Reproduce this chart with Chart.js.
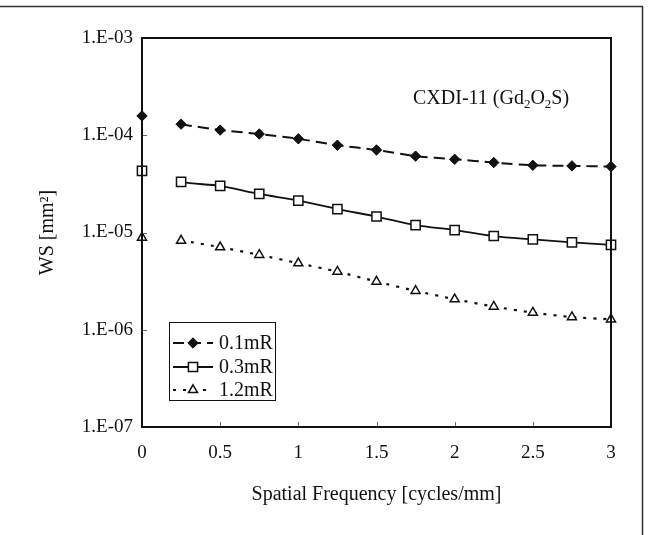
<!DOCTYPE html>
<html>
<head>
<meta charset="utf-8">
<script src="https://cdn.jsdelivr.net/npm/chart.js@4/dist/chart.umd.min.js"></script>
<style>
  html, body { margin: 0; padding: 0; background: #fff; }
  canvas { display: block; }
</style>
</head>
<body>
<canvas id="c" width="651" height="535"></canvas>
<script>
// ---- data ----
const xValues = [0, 0.25, 0.5, 0.75, 1, 1.25, 1.5, 1.75, 2, 2.25, 2.5, 2.75, 3];
const ws01mR = [1.58e-4, 1.30e-4, 1.13e-4, 1.03e-4, 9.2e-5, 7.9e-5, 7.06e-5, 6.1e-5, 5.66e-5, 5.24e-5, 4.91e-5, 4.84e-5, 4.77e-5];
const ws03mR = [4.3e-5, 3.31e-5, 3.01e-5, 2.49e-5, 2.13e-5, 1.74e-5, 1.46e-5, 1.19e-5, 1.06e-5, 9.2e-6, 8.5e-6, 7.9e-6, 7.46e-6];
const ws12mR = [8.87e-6, 8.26e-6, 7.06e-6, 5.89e-6, 4.83e-6, 3.96e-6, 3.13e-6, 2.51e-6, 2.06e-6, 1.73e-6, 1.5e-6, 1.35e-6, 1.28e-6];
const seriesNames = ['0.1mR', '0.3mR', '1.2mR'];
const xTickValues = [0, 0.5, 1, 1.5, 2, 2.5, 3];
const xTickLabels = ['0', '0.5', '1', '1.5', '2', '2.5', '3'];
const yTickValues = [1e-7, 1e-6, 1e-5, 1e-4, 1e-3];
const yTickLabels = ['1.E-07', '1.E-06', '1.E-05', '1.E-04', '1.E-03'];
const xTitle = 'Spatial Frequency [cycles/mm]';
const yTitle = 'WS [mm\u00B2]';

const SERIF = '"Liberation Serif", "DejaVu Serif", "Times New Roman", serif';
const INK = '#111';

function pts(vals) { return xValues.map((x, i) => ({ x: x, y: vals[i] })); }
const hideFirst = { borderColor: ctx => ctx.p0DataIndex === 0 ? 'rgba(0,0,0,0)' : undefined };

const datasets = [
  { label: seriesNames[0], data: pts(ws01mR), borderColor: INK, borderWidth: 2, borderDash: [11, 6],
    pointStyle: 'rectRot', pointRadius: 5.2, pointBackgroundColor: INK, pointBorderColor: INK, pointBorderWidth: 1,
    tension: 0.2, clip: false, segment: hideFirst },
  { label: seriesNames[1], data: pts(ws03mR), borderColor: INK, borderWidth: 1.8, borderDash: [],
    pointStyle: 'rect', pointRadius: 6.5, pointBackgroundColor: '#fff', pointBorderColor: INK, pointBorderWidth: 1.5,
    tension: 0.3, clip: false, segment: hideFirst },
  { label: seriesNames[2], data: pts(ws12mR), borderColor: INK, borderWidth: 2.2, borderDash: [3, 7],
    pointStyle: 'triangle', pointRadius: 5.2, pointBackgroundColor: '#fff', pointBorderColor: INK, pointBorderWidth: 1.5,
    tension: 0.2, clip: false, segment: hideFirst }
];

const framePlugin = {
  id: 'frame',
  beforeDraw(chart) {
    const ctx = chart.ctx;
    ctx.save();
    ctx.fillStyle = '#fff';
    ctx.fillRect(0, 0, chart.width, chart.height);
    ctx.strokeStyle = '#333';
    ctx.lineWidth = 1.5;
    ctx.beginPath();
    ctx.moveTo(0, 6.5); ctx.lineTo(642.5, 6.5); ctx.lineTo(642.5, 535);
    ctx.stroke();
    ctx.restore();
  },
  afterDraw(chart) {
    const ctx = chart.ctx;
    const a = chart.chartArea;
    const xs = chart.scales.x, ys = chart.scales.y;
    ctx.save();
    // inner tick marks
    ctx.strokeStyle = '#666';
    ctx.lineWidth = 1;
    ctx.beginPath();
    yTickValues.forEach(v => {
      const y = Math.round(ys.getPixelForValue(v)) + 0.5;
      ctx.moveTo(a.left, y); ctx.lineTo(a.left + 5, y);
    });
    xTickValues.forEach(v => {
      const x = Math.round(xs.getPixelForValue(v)) + 0.5;
      ctx.moveTo(x, a.bottom); ctx.lineTo(x, a.bottom - 5);
    });
    ctx.stroke();
    // plot border
    ctx.strokeStyle = INK;
    ctx.lineWidth = 2;
    ctx.strokeRect(a.left, a.top, a.right - a.left, a.bottom - a.top);

    // annotation CXDI-11 (Gd2O2S)
    ctx.fillStyle = INK;
    ctx.textBaseline = 'alphabetic';
    ctx.textAlign = 'left';
    const big = '20px ' + SERIF, small = '13px ' + SERIF;
    let x = 413; const by = 104;
    const parts = [['CXDI-11 (Gd', big, 0], ['2', small, 4], ['O', big, 0], ['2', small, 4], ['S)', big, 0]];
    parts.forEach(p => {
      ctx.font = p[1];
      ctx.fillText(p[0], x, by + p[2]);
      x += ctx.measureText(p[0]).width;
    });

    // legend
    const L = { x: 169, y: 322, w: 106, h: 78 };
    ctx.fillStyle = '#fff';
    ctx.fillRect(L.x, L.y, L.w, L.h);
    ctx.strokeStyle = INK;
    ctx.lineWidth = 1;
    ctx.strokeRect(L.x + 0.5, L.y + 0.5, L.w, L.h);
    const rows = [343, 367, 390];
    chart.data.datasets.forEach((ds, i) => {
      const yy = rows[i];
      ctx.save();
      ctx.strokeStyle = ds.borderColor;
      ctx.lineWidth = ds.borderWidth;
      ctx.setLineDash(ds.borderDash || []);
      ctx.beginPath();
      ctx.moveTo(173, yy); ctx.lineTo(213, yy);
      ctx.stroke();
      ctx.restore();
      ctx.save();
      ctx.fillStyle = ds.pointBackgroundColor;
      ctx.strokeStyle = ds.pointBorderColor;
      ctx.lineWidth = ds.pointBorderWidth;
      Chart.helpers.drawPoint(ctx, { pointStyle: ds.pointStyle, radius: ds.pointRadius, rotation: 0, borderWidth: ds.pointBorderWidth }, 193, yy);
      ctx.restore();
      ctx.fillStyle = INK;
      ctx.font = '20px ' + SERIF;
      ctx.textBaseline = 'middle';
      ctx.fillText(ds.label, 219, yy + 1);
    });
    ctx.restore();
  }
};

Chart.defaults.font.family = SERIF;
Chart.defaults.color = INK;

new Chart(document.getElementById('c'), {
  type: 'line',
  data: { datasets: datasets },
  options: {
    responsive: false,
    animation: false,
    devicePixelRatio: 1,
    layout: { padding: { left: 0, top: 38, right: 40, bottom: 0 } },
    plugins: { legend: { display: false }, tooltip: { enabled: false } },
    scales: {
      x: {
        type: 'linear', min: 0, max: 3,
        afterBuildTicks: s => { s.ticks = xTickValues.map(v => ({ value: v })); },
        afterFit: s => { s.height = 108; },
        ticks: { font: { size: 19 }, color: INK, padding: 15, maxRotation: 0,
          callback: v => xTickLabels[xTickValues.indexOf(v)] },
        grid: { display: false, drawTicks: false },
        border: { display: false },
        title: { display: true, text: xTitle, font: { size: 20 }, color: INK, padding: { top: 0, bottom: 28 } }
      },
      y: {
        type: 'logarithmic', min: 1e-7, max: 1e-3,
        afterBuildTicks: s => { s.ticks = yTickValues.map(v => ({ value: v })); },
        afterFit: s => { s.width = 142; },
        ticks: { font: { size: 19 }, color: INK, padding: 9,
          callback: v => { const i = yTickValues.findIndex(t => Math.abs(Math.log10(t) - Math.log10(v)) < 1e-6); return i >= 0 ? yTickLabels[i] : ''; } },
        grid: { display: false, drawTicks: false },
        border: { display: false },
        title: { display: true, text: yTitle, font: { size: 20 }, color: INK, padding: { top: 36, bottom: 0 } }
      }
    }
  },
  plugins: [framePlugin]
});
</script>
</body>
</html>
